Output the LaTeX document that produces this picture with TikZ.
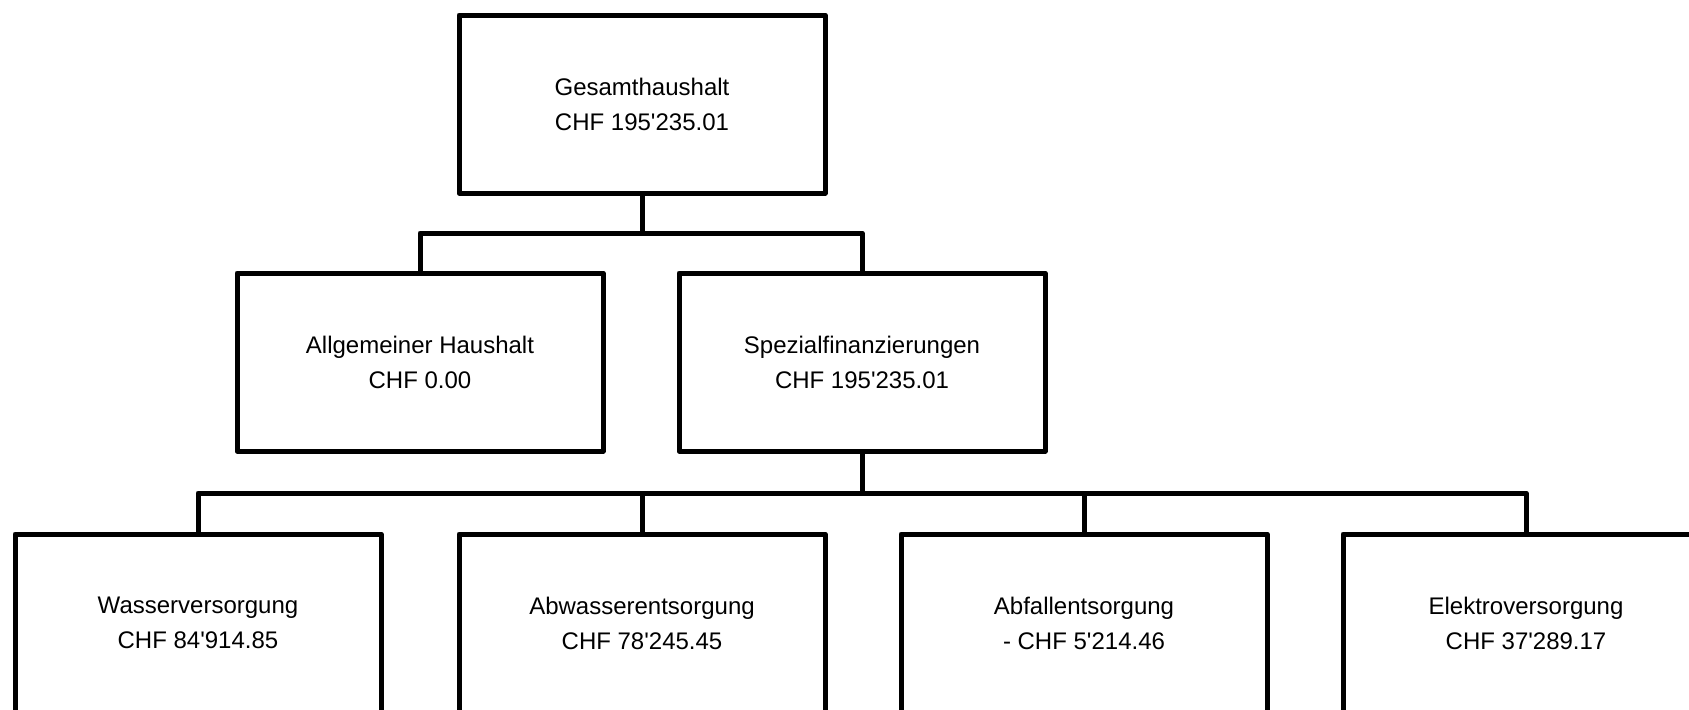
\documentclass[tikz,border=0pt]{standalone}
\usepackage{fontspec}
\setmainfont{Liberation Sans}
\newcommand{\apo}{\textquotesingle}
\tikzset{konto/.style={draw,line width=2.5pt,line join=round,minimum width=183pt,minimum height=89pt,inner sep=0pt,align=center,font=\fontsize{12}{17.5}\selectfont},
link/.style={line width=2.5pt,line join=round}}

\begin{document}
\begin{tikzpicture}[x=0.5pt,y=-0.5pt]
\useasboundingbox (0,0) rectangle (1689,709);
\node[konto] (gesamt) at (642,104) {Gesamthaushalt\\CHF 195\apo235.01};
\node[konto] (allg) at (420,362) {Allgemeiner Haushalt\\CHF 0.00};
\node[konto] (spez) at (862,362) {Spezialfinanzierungen\\CHF 195\apo235.01};
\node[konto] (wasser) at (198,623) {Wasserversorgung\\CHF 84\apo914.85};
\node[konto] (abwasser) at (642,623) {Abwasserentsorgung\\CHF 78\apo245.45};
\node[konto] (abfall) at (1084,623) {Abfallentsorgung\\- CHF 5\apo214.46};
\node[konto] (elektro) at (1526,623) {Elektroversorgung\\CHF 37\apo289.17};
\coordinate (bus1) at (642,233);
\coordinate (bus2) at (862,493);
\draw[link] (gesamt.south)--(bus1);
\draw[link] (allg.north)|-(bus1)-|(spez.north);
\draw[link] (spez.south)--(bus2);
\draw[link] (wasser.north)|-(bus2)-|(elektro.north);
\foreach \k in {abwasser,abfall}{\draw[link] (\k.north)--(\k.north|-bus2);}
\end{tikzpicture}
\end{document}
